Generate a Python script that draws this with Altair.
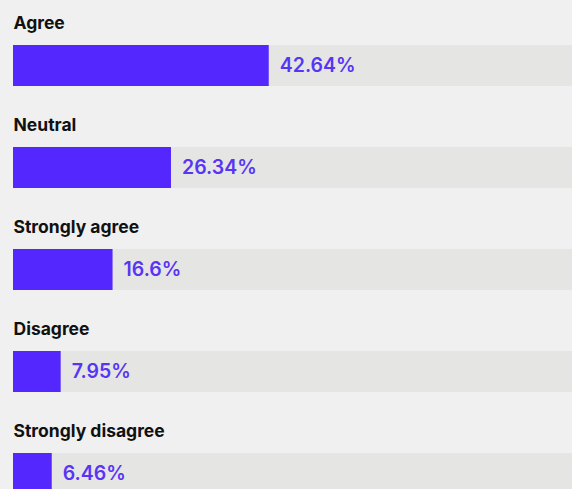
import altair as alt
import pandas as pd

categories = ["Agree", "Neutral", "Strongly agree", "Disagree", "Strongly disagree"]
values = [42.64, 26.34, 16.6, 7.95, 6.46]
track_total = [100, 100, 100, 100, 100]

df = pd.DataFrame({"category": categories, "value": values, "total": track_total})

PURPLE = "#5427ff"
TEXT_PURPLE = "#5735f5"
TRACK = "#e5e5e3"
BG = "#f0f0f0"

xscale = alt.Scale(domain=[0, 93.2], nice=False, zero=True)
y = alt.Y("category:N", sort=categories, axis=None,
          scale=alt.Scale(paddingInner=0, paddingOuter=0))

base = alt.Chart(df)

track = base.mark_bar(color=TRACK, height=41, yOffset=14.5, clip=True).encode(
    x=alt.X("total:Q", scale=xscale, axis=None), y=y
)

bars = base.mark_bar(color=PURPLE, height=41, yOffset=14.5).encode(
    x=alt.X("value:Q", scale=xscale, axis=None), y=y
)

pct = base.transform_calculate(label="datum.value + '%'").mark_text(
    align="left", baseline="middle", dx=11, dy=14.5,
    font="Inter", fontSize=19.5, fontWeight=600, color=TEXT_PURPLE
).encode(
    x=alt.X("value:Q", scale=xscale, axis=None), y=y, text="label:N"
)

cat_labels = base.mark_text(
    align="left", baseline="alphabetic", dy=-22.5,
    font="Inter", fontSize=17.5, fontWeight=700, color="#111111"
).encode(
    x=alt.value(0.5), y=y, text="category:N"
)

chart = alt.layer(track, bars, pct, cat_labels).properties(
    width=559, height=510,
    padding={"left": 13, "top": 0, "right": 0, "bottom": 0},
    autosize=alt.AutoSizeParams(type="none"),
    background=BG,
).configure_view(stroke=None)

chart.save("out.html", embed_options={"renderer": "svg", "actions": False})
